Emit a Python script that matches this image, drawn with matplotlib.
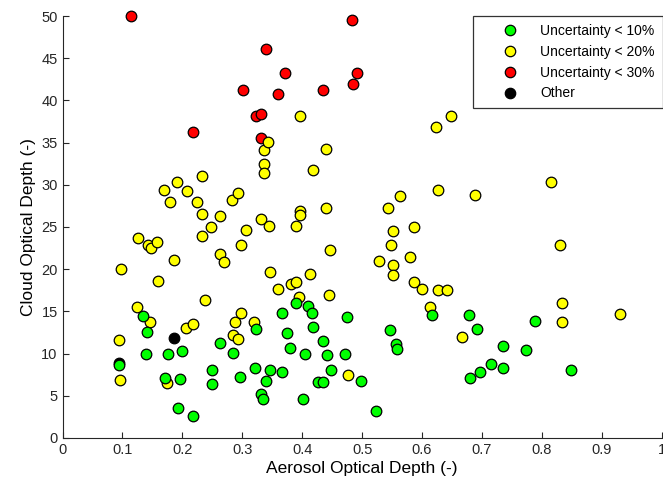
import matplotlib
matplotlib.use("Agg")
import matplotlib.pyplot as plt
from matplotlib.lines import Line2D

plt.rcParams['font.family'] = ['Liberation Sans', 'DejaVu Sans']

# Aerosol optical depth / cloud optical depth pairs grouped by retrieval uncertainty
aod_lt10 = [0.094, 0.135, 0.141, 0.140, 0.171, 0.176, 0.196, 0.193, 0.200, 0.218,
            0.250, 0.250, 0.263, 0.284, 0.296, 0.321, 0.323, 0.332, 0.335, 0.339,
            0.346, 0.367, 0.367, 0.374, 0.380, 0.389, 0.402, 0.405, 0.409, 0.416,
            0.418, 0.426, 0.435, 0.435, 0.441, 0.448, 0.472, 0.474, 0.498, 0.523,
            0.546, 0.557, 0.559, 0.617, 0.678, 0.680, 0.691, 0.696, 0.715, 0.735,
            0.735, 0.774, 0.789, 0.848]
cod_lt10 = [8.6, 14.5, 12.6, 10.0, 7.1, 10.0, 7.0, 3.5, 10.3, 2.6,
            8.1, 6.4, 11.3, 10.1, 7.2, 8.3, 12.9, 5.2, 4.6, 6.8,
            8.1, 7.8, 14.8, 12.4, 10.7, 16.0, 4.6, 10.0, 15.6, 14.8,
            13.2, 6.6, 6.6, 11.5, 9.8, 8.1, 10.0, 14.3, 6.7, 3.2,
            12.8, 11.1, 10.5, 14.6, 14.6, 7.1, 12.9, 7.8, 8.8, 10.9,
            8.3, 10.4, 13.9, 8.1]

aod_lt20 = [0.094, 0.096, 0.098, 0.124, 0.126, 0.143, 0.146, 0.148, 0.157, 0.160,
            0.170, 0.174, 0.179, 0.186, 0.191, 0.206, 0.208, 0.218, 0.224, 0.233,
            0.233, 0.233, 0.237, 0.247, 0.263, 0.263, 0.269, 0.283, 0.284, 0.287,
            0.292, 0.293, 0.298, 0.298, 0.307, 0.320, 0.332, 0.336, 0.337, 0.337,
            0.343, 0.344, 0.347, 0.360, 0.382, 0.389, 0.390, 0.395, 0.397, 0.397,
            0.396, 0.413, 0.418, 0.439, 0.439, 0.444, 0.447, 0.476, 0.529, 0.544,
            0.548, 0.552, 0.552, 0.552, 0.563, 0.580, 0.586, 0.586, 0.600, 0.613,
            0.624, 0.626, 0.626, 0.641, 0.648, 0.667, 0.689, 0.815, 0.830, 0.833,
            0.833, 0.931]
cod_lt20 = [11.6, 6.9, 20.0, 15.5, 23.7, 22.9, 13.8, 22.5, 23.2, 18.6,
            29.4, 6.5, 28.0, 21.1, 30.3, 13.0, 29.3, 13.5, 28.0, 31.1,
            26.5, 23.9, 16.4, 25.0, 26.3, 21.8, 20.9, 28.2, 12.2, 13.8,
            11.7, 29.0, 22.9, 14.8, 24.6, 13.7, 26.0, 34.1, 32.5, 31.4,
            35.1, 25.1, 19.7, 17.7, 18.2, 25.1, 18.5, 16.7, 38.1, 26.9,
            26.4, 19.4, 31.7, 34.2, 27.3, 16.9, 22.3, 7.5, 21.0, 27.2,
            22.9, 24.5, 20.5, 19.3, 28.7, 21.4, 25.0, 18.5, 17.7, 15.5,
            36.8, 29.4, 17.5, 17.5, 38.2, 12.0, 28.8, 30.3, 22.9, 16.0,
            13.7, 14.7]

aod_lt30 = [0.115, 0.217, 0.302, 0.323, 0.332, 0.332, 0.339, 0.359, 0.372,
            0.435, 0.483, 0.485, 0.491]
cod_lt30 = [50.0, 36.2, 41.2, 38.2, 38.4, 35.6, 46.1, 40.7, 43.3,
            41.2, 49.5, 41.9, 43.3]

aod_other = [0.094, 0.186]
cod_other = [8.9, 11.8]

labels = ['Uncertainty < 10%', 'Uncertainty < 20%', 'Uncertainty < 30%', 'Other']
colors = ['#00ff00', '#ffff00', '#ff0000', '#000000']
x_ticks = [0, 0.1, 0.2, 0.3, 0.4, 0.5, 0.6, 0.7, 0.8, 0.9, 1]
x_tick_labels = ['0', '0.1', '0.2', '0.3', '0.4', '0.5', '0.6', '0.7', '0.8', '0.9', '1']
y_ticks = [0, 5, 10, 15, 20, 25, 30, 35, 40, 45, 50]

fig = plt.figure(figsize=(6.63, 4.94), dpi=100)
ax = fig.add_axes([0.0944, 0.1134, 0.9035, 0.8542])

ms = 58
kw = dict(s=ms, edgecolors='black', linewidths=0.9, clip_on=False)
ax.scatter(aod_other, cod_other, c=colors[3], zorder=2, **kw)
ax.scatter(aod_lt30, cod_lt30, c=colors[2], zorder=3, **kw)
ax.scatter(aod_lt20, cod_lt20, c=colors[1], zorder=4, **kw)
ax.scatter(aod_lt10, cod_lt10, c=colors[0], zorder=5, **kw)

ax.set_xlim(0, 1)
ax.set_ylim(0, 50)
ax.set_xticks(x_ticks)
ax.set_xticklabels(x_tick_labels)
ax.set_yticks(y_ticks)
ax.tick_params(direction='in', length=4, width=0.8, labelsize=10.5, colors='#262626')
for s in ['top', 'right']:
    ax.spines[s].set_visible(False)
for s in ['left', 'bottom']:
    ax.spines[s].set_color('#262626')
    ax.spines[s].set_linewidth(0.8)

ax.set_xlabel('Aerosol Optical Depth (-)', fontsize=12.5, labelpad=3)
ax.set_ylabel('Cloud Optical Depth (-)', fontsize=12.5, labelpad=4)

handles = [Line2D([], [], marker='o', linestyle='none', markersize=7.5,
                  markerfacecolor=c, markeredgecolor='black', markeredgewidth=0.9)
           for c in colors]
leg = ax.legend(handles, labels, loc='upper right', bbox_to_anchor=(1.0015, 1.0),
                fontsize=10, frameon=True, fancybox=False, borderpad=0.55,
                handletextpad=0.1, labelspacing=0.5, handlelength=4.2,
                borderaxespad=0)
leg.get_frame().set_edgecolor('black')
leg.get_frame().set_linewidth(0.9)

fig.savefig('out.png', dpi=100)
